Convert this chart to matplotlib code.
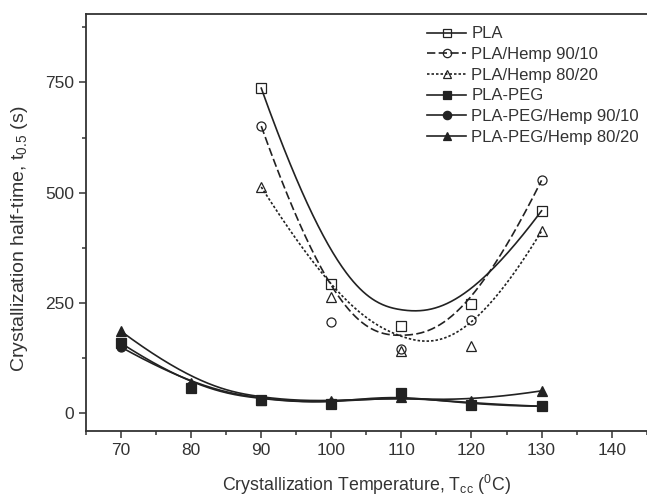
import numpy as np
import matplotlib.pyplot as plt
from matplotlib.ticker import MultipleLocator

plt.rcParams['font.family'] = ['Liberation Sans', 'DejaVu Sans']
plt.rcParams['mathtext.fontset'] = 'custom'
plt.rcParams['mathtext.rm'] = 'Liberation Sans'
plt.rcParams['mathtext.it'] = 'Liberation Sans'

# crystallization temperatures (C)
temp_pla = [90, 100, 110, 120, 130]
temp_peg = [70, 80, 90, 100, 110, 120, 130]

# half-time t0.5 (s)
pla = [737, 294, 199, 247, 459]
pla_hemp_9010 = [651, 207, 145, 211, 528]
pla_hemp_8020 = [513, 264, 141, 153, 413]
peg = [159, 57, 30, 22, 46, 18, 16]
peg_hemp_9010 = [150, 62, 30, 23, 41, 22, 16]
peg_hemp_8020 = [186, 68, 31, 27, 37, 27, 51]


def bspline(xs, ys, n=300, k=3):
    # clamped B-spline using the data points as control points
    pts = np.column_stack([xs, ys]).astype(float)
    m = len(pts)
    inner = np.linspace(0, 1, m - k + 1)[1:-1]
    knots = np.concatenate([np.zeros(k + 1), inner, np.ones(k + 1)])
    u = np.linspace(0, 1, n)
    u[-1] = 1 - 1e-10
    # Cox-de Boor recursion
    N = np.zeros((n, len(knots) - 1))
    for i in range(len(knots) - 1):
        N[:, i] = (u >= knots[i]) & (u < knots[i + 1])
    for d in range(1, k + 1):
        Nn = np.zeros((n, len(knots) - 1 - d))
        for i in range(len(knots) - 1 - d):
            a = knots[i + d] - knots[i]
            b = knots[i + d + 1] - knots[i + 1]
            t1 = (u - knots[i]) / a * N[:, i] if a > 0 else 0
            t2 = (knots[i + d + 1] - u) / b * N[:, i + 1] if b > 0 else 0
            Nn[:, i] = t1 + t2
        N = Nn
    c = N @ pts
    return c[:, 0], c[:, 1]


fig, ax = plt.subplots(figsize=(6.47, 5.0), dpi=100)
fig.subplots_adjust(left=0.133, right=0.9995, bottom=0.138, top=0.972)

col = '#222222'
txt = '#333333'
series = [
    (temp_pla, pla, 'PLA', 's', 'none', '-'),
    (temp_pla, pla_hemp_9010, 'PLA/Hemp 90/10', 'o', 'none', (0, (5, 2))),
    (temp_pla, pla_hemp_8020, 'PLA/Hemp 80/20', '^', 'none', (0, (1.5, 1.2))),
    (temp_peg, peg, 'PLA-PEG', 's', col, '-'),
    (temp_peg, peg_hemp_9010, 'PLA-PEG/Hemp 90/10', 'o', col, '-'),
    (temp_peg, peg_hemp_8020, 'PLA-PEG/Hemp 80/20', '^', col, '-'),
]

for xs, ys, name, mk, fc, ls in series:
    bx, by = bspline(xs, ys)
    ax.plot(bx, by, color=col, lw=1.2, ls=ls)
    ax.plot(xs, ys, ls='none', marker=mk, ms=6.5, mfc=fc, mec=col, mew=0.9)
    ax.plot([], [], color=col, lw=1.2, ls=ls, marker=mk, ms=6, mfc=fc,
            mec=col, mew=0.9, label=name)

ax.set_xlim(65, 145)
ax.set_ylim(-40, 905)
ax.xaxis.set_major_locator(MultipleLocator(10))
ax.xaxis.set_minor_locator(MultipleLocator(5))
ax.yaxis.set_major_locator(MultipleLocator(250))
ax.yaxis.set_minor_locator(MultipleLocator(125))
ax.set_xticks(range(70, 141, 10))
ax.tick_params(which='major', direction='out', length=5, width=1.1,
               labelsize=12.5, colors=txt)
ax.tick_params(which='minor', direction='out', length=3, width=1.1,
               colors=txt)
for s in ax.spines.values():
    s.set_linewidth(1.3)
    s.set_color(txt)
ax.spines['right'].set_visible(False)

ax.set_xlabel('Crystallization Temperature, T$_{cc}$ ($^{0}$C)',
              fontsize=12.8, color=txt, labelpad=11)
ax.set_ylabel('Crystallization half-time, t$_{0.5}$ (s)',
              fontsize=14, color=txt)
ax.yaxis.set_label_coords(-0.1, 0.46)

leg = ax.legend(loc='upper right', bbox_to_anchor=(1.013, 1.006), frameon=False,
                fontsize=12, handlelength=2.35, handletextpad=0.3,
                labelspacing=0.34, labelcolor=txt)

fig.savefig('out.png', dpi=100)
